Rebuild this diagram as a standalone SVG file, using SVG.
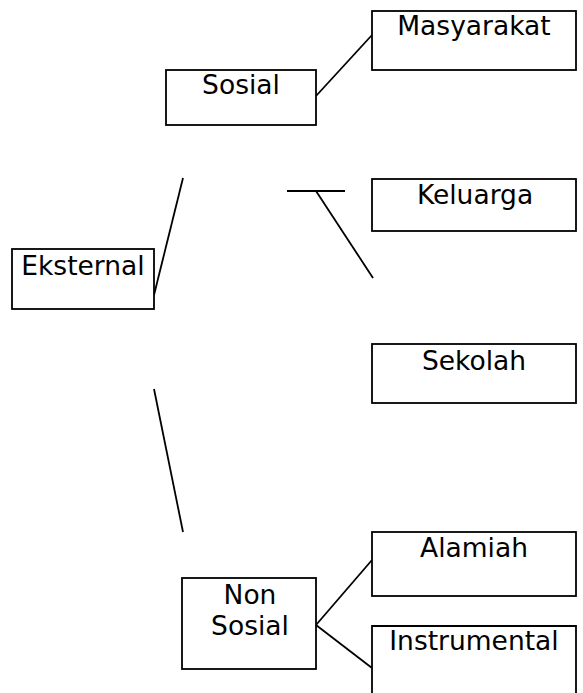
<svg xmlns="http://www.w3.org/2000/svg" width="583" height="693" viewBox="0 0 583 693">
<style>
.box{fill:#fff;stroke:#000;stroke-width:1.8}
.lbl{font-family:"DejaVu Sans",sans-serif;font-size:26.5px;fill:#000;text-anchor:middle}
.con line{stroke:#000;stroke-width:1.8}
</style>
<rect width="583" height="693" fill="#fff"/>
<g class="con" id="connectors">
<line x1="316" y1="96" x2="372" y2="35"/>
<line x1="287" y1="191" x2="345" y2="191"/>
<line x1="316" y1="191" x2="373" y2="278"/>
<line x1="154" y1="295" x2="183" y2="178"/>
<line x1="154" y1="389" x2="183" y2="532"/>
<line x1="316" y1="625" x2="372" y2="560"/>
<line x1="316" y1="625" x2="372" y2="668"/>
</g>
<g id="masyarakat"><rect class="box" x="372" y="11" width="204" height="59"/><text class="lbl" x="474" y="35">Masyarakat</text></g>
<g id="sosial"><rect class="box" x="166" y="70" width="150" height="55"/><text class="lbl" x="241" y="94">Sosial</text></g>
<g id="keluarga"><rect class="box" x="372" y="179" width="204" height="52"/><text class="lbl" x="475" y="204">Keluarga</text></g>
<g id="eksternal"><rect class="box" x="12" y="249" width="142" height="60"/><text class="lbl" x="83" y="275">Eksternal</text></g>
<g id="sekolah"><rect class="box" x="372" y="344" width="204" height="59"/><text class="lbl" x="474" y="370">Sekolah</text></g>
<g id="alamiah"><rect class="box" x="372" y="532" width="204" height="64"/><text class="lbl" x="474" y="557">Alamiah</text></g>
<g id="nonsosial"><rect class="box" x="182" y="578" width="134" height="91"/><text class="lbl" x="250" y="604">Non</text><text class="lbl" x="250" y="635">Sosial</text></g>
<g id="instrumental"><path class="box" d="M372,700 V626 H576 V700" fill="none"/><text class="lbl" x="474" y="650">Instrumental</text></g>
</svg>
